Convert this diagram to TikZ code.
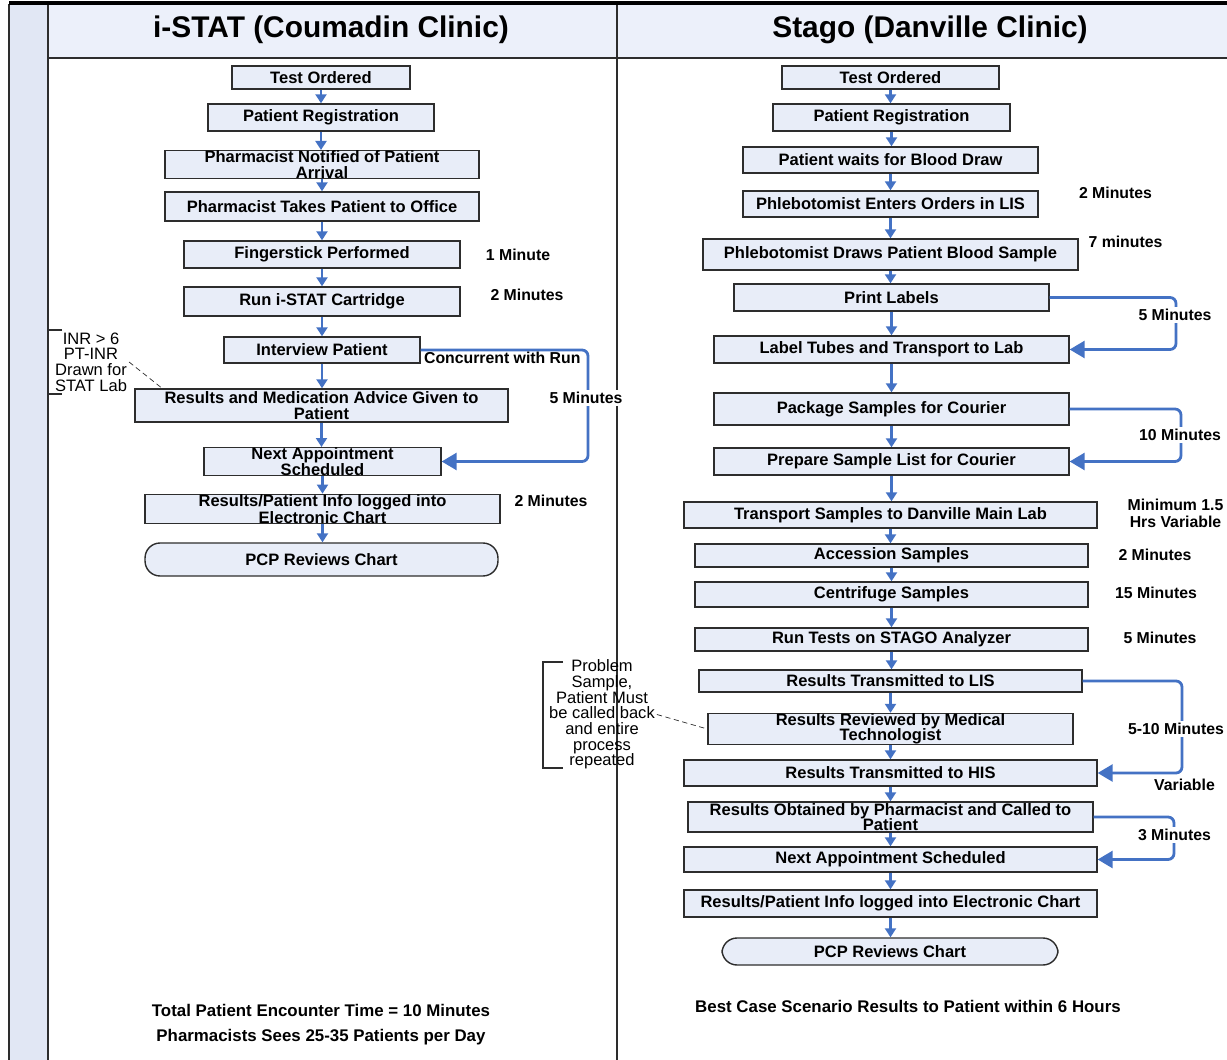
\documentclass[tikz,border=0pt]{standalone}
\usepackage{fontspec}
\setmainfont{Liberation Sans}
\definecolor{boxfill}{RGB}{232, 237, 248}
\definecolor{headfill}{RGB}{236, 240, 250}
\definecolor{stripfill}{RGB}{225, 231, 244}
\definecolor{flowblue}{RGB}{68, 114, 196}
\definecolor{edgegray}{RGB}{45, 45, 45}
\usetikzlibrary{arrows.meta}

\begin{document}
\begin{tikzpicture}[x=0.02cm, y=-0.02cm,
    stepbox/.style={draw=edgegray, line width=0.8pt, fill=boxfill, align=center, inner sep=0pt,
      font=\bfseries\fontsize{9.4}{8.8}\selectfont},
    termbox/.style={stepbox, rounded corners=0.3cm},
    timenote/.style={font=\bfseries\fontsize{9}{9.5}\selectfont, align=center, inner sep=1pt},
    sidenote/.style={font=\fontsize{9.4}{8.9}\selectfont, align=center, inner sep=1pt},
    flowarrow/.style={flowblue, line width=1.2pt, -{Triangle[width=0.22cm, length=0.18cm]}},
    sideloop/.style={flowblue, line width=1.6pt, rounded corners=0.12cm, -{Triangle[width=0.34cm, length=0.3cm]}}]
        \useasboundingbox (0,0) rectangle (1227,1060);
        
        \fill[stripfill] (9,4) rectangle (48,1060);
        \fill[headfill] (48,4) rectangle (1227,58);
        \draw[line width=1.2pt, edgegray] (9,4) -- (9,1060);
        \draw[line width=1.2pt, edgegray] (48,4) -- (48,1060);
        \draw[line width=1pt, edgegray] (48,58) -- (1227,58);
        \draw[line width=1pt, edgegray] (617,4) -- (617,1060);
        \draw[line width=2pt] (9,3) -- (1227,3);
        
        \node[font=\bfseries\fontsize{17}{20}\selectfont] (lhead) at (331,30) {i-STAT (Coumadin Clinic)};
        \node[font=\bfseries\fontsize{17}{20}\selectfont] (rhead) at (930,30) {Stago (Danville Clinic)};
        
        \node[stepbox, minimum width=3.56cm, minimum height=0.46cm] (lorder) at (321,77.5) {Test Ordered};
        \node[stepbox, minimum width=4.52cm, minimum height=0.54cm] (lreg) at (321,117.5) {Patient Registration};
        \node[stepbox, minimum width=6.28cm, minimum height=0.54cm] (lnotify) at (322,164.5) {Pharmacist Notified of Patient\\Arrival};
        \node[stepbox, minimum width=6.28cm, minimum height=0.58cm] (loffice) at (322,206.5) {Pharmacist Takes Patient to Office};
        \node[stepbox, minimum width=5.52cm, minimum height=0.54cm] (lfinger) at (322,254.5) {Fingerstick Performed};
        \node[stepbox, minimum width=5.52cm, minimum height=0.58cm] (lcart) at (322,301.5) {Run i-STAT Cartridge};
        \node[stepbox, minimum width=3.92cm, minimum height=0.52cm] (linterview) at (322,350) {Interview Patient};
        \node[stepbox, minimum width=7.46cm, minimum height=0.66cm] (ladvice) at (321.5,405.5) {Results and Medication Advice Given to\\Patient};
        \node[stepbox, minimum width=4.74cm, minimum height=0.54cm] (lnext) at (322.5,461.5) {Next Appointment\\Scheduled};
        \node[stepbox, minimum width=7.10cm, minimum height=0.52cm] (llog) at (322.5,509) {Results/Patient Info logged into\\Electronic Chart};
        \node[termbox, minimum width=7.06cm, minimum height=0.66cm] (lpcp) at (321.5,559.5) {PCP Reviews Chart};
        
        \foreach \a/\b in {lorder/lreg, lreg/lnotify, lnotify/loffice, loffice/lfinger, lfinger/lcart,
            lcart/linterview, linterview/ladvice, ladvice/lnext, lnext/llog, llog/lpcp}
          \draw[flowarrow] (\a.south) -- (\a.south |- \b.north);
        
        \coordinate (lturn) at (588,0);
        \draw[sideloop] (linterview.east) -| (lturn |- lnext.east) -- (lnext.east);
        \node[timenote, anchor=west] (lconc) at (422,358) {Concurrent with Run};
        \node[timenote, fill=white] (lfive) at (586,398) {5 Minutes};
        \node[timenote] (lone) at (518,255) {1 Minute};
        \node[timenote] (ltwo) at (527,295) {2 Minutes};
        \node[timenote] (ltwolog) at (551,501) {2 Minutes};
        
        \draw[line width=0.8pt, edgegray] (62,330) -- (48,330) -- (48,394) -- (62,394);
        \node[sidenote] (inrnote) at (91,362) {INR > 6\\PT-INR\\Drawn for\\STAT Lab};
        \coordinate (inrend) at (163,389);
        \draw[densely dashed, edgegray] (inrnote.east) -- (inrend);
        
        \node[stepbox, minimum width=4.34cm, minimum height=0.46cm] (rorder) at (890.5,77.5) {Test Ordered};
        \node[stepbox, minimum width=4.74cm, minimum height=0.54cm] (rreg) at (891.5,117.5) {Patient Registration};
        \node[stepbox, minimum width=5.90cm, minimum height=0.52cm] (rwait) at (890.5,160) {Patient waits for Blood Draw};
        \node[stepbox, minimum width=5.90cm, minimum height=0.52cm] (renter) at (890.5,204) {Phlebotomist Enters Orders in LIS};
        \node[stepbox, minimum width=7.50cm, minimum height=0.62cm] (rdraw) at (890.5,254.5) {Phlebotomist Draws Patient Blood Sample};
        \node[stepbox, minimum width=6.30cm, minimum height=0.54cm] (rprint) at (891.5,297.5) {Print Labels};
        \node[stepbox, minimum width=7.10cm, minimum height=0.54cm] (rlabel) at (891.5,349.5) {Label Tubes and Transport to Lab};
        \node[stepbox, minimum width=7.10cm, minimum height=0.64cm] (rpackage) at (891.5,409) {Package Samples for Courier};
        \node[stepbox, minimum width=7.10cm, minimum height=0.54cm] (rlist) at (891.5,461.5) {Prepare Sample List for Courier};
        \node[stepbox, minimum width=8.26cm, minimum height=0.52cm] (rtransport) at (890.5,515) {Transport Samples to Danville Main Lab};
        \node[stepbox, minimum width=7.86cm, minimum height=0.46cm] (raccession) at (891.5,555.5) {Accession Samples};
        \node[stepbox, minimum width=7.86cm, minimum height=0.50cm] (rcentrifuge) at (891.5,594.5) {Centrifuge Samples};
        \node[stepbox, minimum width=7.86cm, minimum height=0.46cm] (rtests) at (891.5,639.5) {Run Tests on STAGO Analyzer};
        \node[stepbox, minimum width=7.66cm, minimum height=0.44cm] (rlis) at (890.5,681) {Results Transmitted to LIS};
        \node[stepbox, minimum width=7.30cm, minimum height=0.56cm] (rreview) at (890.5,729) {Results Reviewed by Medical\\Technologist};
        \node[stepbox, minimum width=8.26cm, minimum height=0.52cm] (rhis) at (890.5,773) {Results Transmitted to HIS};
        \node[stepbox, minimum width=8.10cm, minimum height=0.60cm] (robtained) at (890.5,817) {Results Obtained by Pharmacist and Called to\\Patient};
        \node[stepbox, minimum width=8.26cm, minimum height=0.50cm] (rnext) at (890.5,859.5) {Next Appointment Scheduled};
        \node[stepbox, minimum width=8.26cm, minimum height=0.54cm] (rlog) at (890.5,903.5) {Results/Patient Info logged into Electronic Chart};
        \node[termbox, minimum width=6.72cm, minimum height=0.54cm] (rpcp) at (890,951.5) {PCP Reviews Chart};
        
        \foreach \a/\b in {rorder/rreg, rreg/rwait, rwait/renter, renter/rdraw, rdraw/rprint, rprint/rlabel,
            rlabel/rpackage, rpackage/rlist, rlist/rtransport, rtransport/raccession, raccession/rcentrifuge,
            rcentrifuge/rtests, rtests/rlis, rlis/rreview, rreview/rhis, rhis/robtained, robtained/rnext,
            rnext/rlog, rlog/rpcp}
          \draw[flowarrow] (\a.south) -- (\a.south |- \b.north);
        
        \coordinate (rturnprint) at (1176,0);
        \coordinate (rturnpack) at (1181,0);
        \coordinate (rturnlis) at (1182,0);
        \coordinate (rturnobt) at (1174,0);
        \draw[sideloop] (rprint.east) -| (rturnprint |- rlabel.east) -- (rlabel.east);
        \draw[sideloop] (rpackage.east) -| (rturnpack |- rlist.east) -- (rlist.east);
        \draw[sideloop] (rlis.east) -| (rturnlis |- rhis.east) -- (rhis.east);
        \draw[sideloop] (robtained.east) -| (rturnobt |- rnext.east) -- (rnext.east);
        
        \node[timenote] (renter2) at (1115.5,193) {2 Minutes};
        \node[timenote] (rdraw7) at (1125.5,242) {7 minutes};
        \node[timenote, fill=white] (rprint5) at (1175,315) {5 Minutes};
        \node[timenote, fill=white] (rpack10) at (1180,435) {10 Minutes};
        \node[timenote] (rtransmin) at (1175.5,513.5) {Minimum 1.5\\Hrs Variable};
        \node[timenote] (racc2) at (1155,555) {2 Minutes};
        \node[timenote] (rcent15) at (1156,593) {15 Minutes};
        \node[timenote] (rtests5) at (1160,638) {5 Minutes};
        \node[timenote, fill=white, anchor=east] (rlis510) at (1226,729) {5-10 Minutes};
        \node[timenote] (rhisvar) at (1184.5,785) {Variable};
        \node[timenote, fill=white] (robt3) at (1174.5,835) {3 Minutes};
        
        \draw[line width=0.8pt, edgegray] (563,662) -- (543,662) -- (543,768) -- (563,768);
        \node[sidenote] (probnote) at (602,714.5) {Problem\\Sample,\\Patient Must\\be called back\\and entire\\process\\repeated};
        \draw[densely dashed, edgegray] (probnote.east) -- (rreview.west);
        
        \node[font=\bfseries\fontsize{9.6}{11}\selectfont] (ltotal) at (321,1010) {Total Patient Encounter Time = 10 Minutes};
        \node[font=\bfseries\fontsize{9.6}{11}\selectfont] (lperday) at (321,1037) {Pharmacists Sees 25-35 Patients per Day};
        \node[font=\bfseries\fontsize{9.6}{11}\selectfont] (rbest) at (908,1006) {Best Case Scenario Results to Patient within 6 Hours};
      \end{tikzpicture}
\end{document}
